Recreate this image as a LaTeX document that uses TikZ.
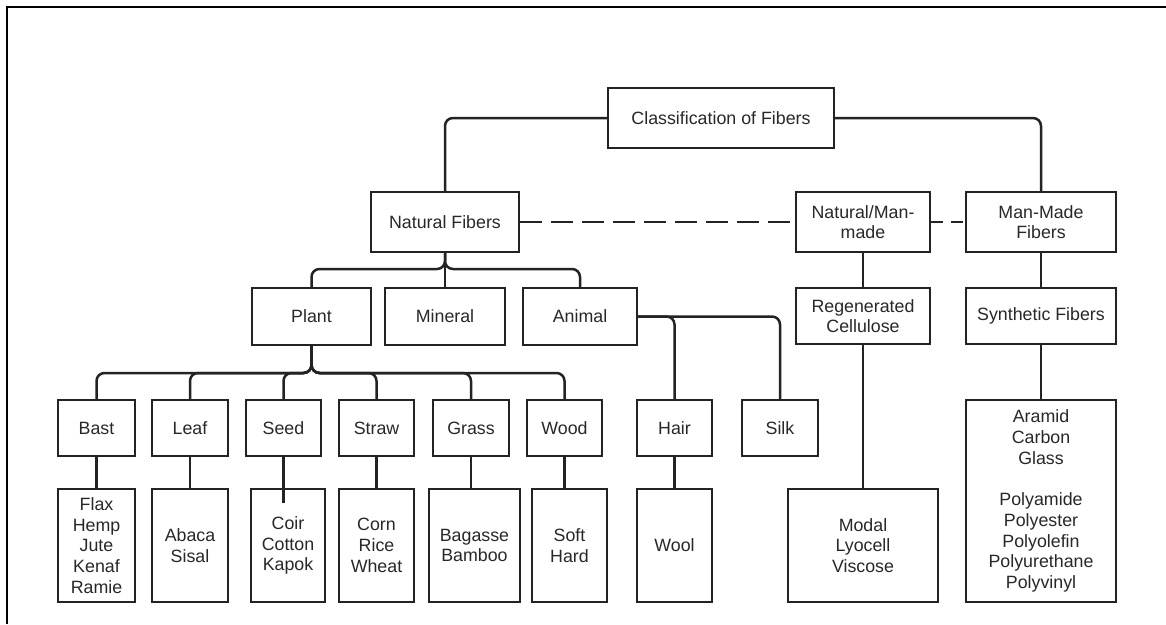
\documentclass[tikz,border=0pt]{standalone}
\usepackage{fontspec}
\setmainfont{Liberation Sans}
\definecolor{linec}{RGB}{35,35,35}
\definecolor{textc}{RGB}{40,40,40}
\begin{document}
\begin{tikzpicture}[x=1pt,y=-1pt,
  box/.style={draw=linec, line width=2.1pt, inner sep=0pt, align=center,
    font=\fontsize{17.8}{20.7}\selectfont, text=textc},
  conn/.style={draw=linec, line width=2.5pt},
  rc/.style={rounded corners=8pt}]
\useasboundingbox (0,0) rectangle (1166,624);
\fill[white] (0,0) rectangle (1166,624);
% frame (top and left visible)
\draw[line width=2.4pt, black] (7,624) -- (7,7) -- (1166,7);

% level 0
\node[box, minimum width=226pt, minimum height=60pt] (class) at (721,118) {Classification of Fibers};
% level 1
\node[box, minimum width=148pt, minimum height=60pt] (nf) at (445,222) {Natural Fibers};
\node[box, minimum width=134pt, minimum height=60pt] (nm) at (863,222) {Natural/Man-\\made};
\node[box, minimum width=150pt, minimum height=60pt] (mm) at (1041,222) {Man-Made\\Fibers};
% level 2
\node[box, minimum width=119pt, minimum height=57pt] (plant) at (311.5,316.5) {Plant};
\node[box, minimum width=120pt, minimum height=57pt] (mineral) at (445,316.5) {Mineral};
\node[box, minimum width=114pt, minimum height=57pt] (animal) at (580,316.5) {Animal};
\node[box, minimum width=134pt, minimum height=56pt] (regen) at (863,316) {Regenerated\\Cellulose};
\node[box, minimum width=150pt, minimum height=56pt] (synth) at (1041,316) {Synthetic Fibers};
% level 3
\node[box, minimum width=77pt, minimum height=56pt] (bast) at (96.5,428) {Bast};
\node[box, minimum width=76pt, minimum height=56pt] (leaf) at (190,428) {Leaf};
\node[box, minimum width=75pt, minimum height=56pt] (seed) at (283.5,428) {Seed};
\node[box, minimum width=75pt, minimum height=56pt] (straw) at (376.5,428) {Straw};
\node[box, minimum width=76pt, minimum height=56pt] (grass) at (471,428) {Grass};
\node[box, minimum width=75pt, minimum height=56pt] (wood) at (564.5,428) {Wood};
\node[box, minimum width=75pt, minimum height=56pt] (hair) at (674.5,428) {Hair};
\node[box, minimum width=76pt, minimum height=56pt] (silk) at (780,428) {Silk};
\node[box, minimum width=150pt, minimum height=202pt] (aramid) at (1041,501)
  {Aramid\\Carbon\\Glass\\[20.7pt]Polyamide\\Polyester\\Polyolefin\\Polyurethane\\Polyvinyl};
% level 4
\node[box, minimum width=77pt, minimum height=113pt] (flax) at (96.5,545.5) {Flax\\Hemp\\Jute\\Kenaf\\Ramie};
\node[box, minimum width=76pt, minimum height=113pt] (abaca) at (190,545.5) {Abaca\\Sisal};
\node[box, minimum width=74pt, minimum height=113pt] (coir) at (288,545.5) {Coir\\Cotton\\Kapok};
\node[box, minimum width=75pt, minimum height=113pt] (corn) at (376.5,545.5) {Corn\\Rice\\Wheat};
\node[box, minimum width=91pt, minimum height=113pt] (bagasse) at (474.5,545.5) {Bagasse\\Bamboo};
\node[box, minimum width=75pt, minimum height=113pt] (soft) at (569.5,545.5) {Soft\\Hard};
\node[box, minimum width=75pt, minimum height=113pt] (wool) at (674.5,545.5) {Wool};
\node[box, minimum width=150pt, minimum height=113pt] (modal) at (863,545.5) {Modal\\Lyocell\\Viscose};

% branch points
\coordinate (nfb) at (445,269);
\coordinate (pb) at (311.5,373);
\coordinate (seedend) at (283.5,503);

% connectors
\draw[conn, rc] (class.west) -| (nf.north);
\draw[conn, rc] (class.east) -| (mm.north);
\draw[conn, dash pattern=on 22pt off 9pt] (nf.east) -- (nm.west);
\draw[conn, dash pattern=on 12pt off 8pt] (nm.east) -- (mm.west);

\draw[conn, rc] (nf.south) -- (nfb) -| (plant.north);
\draw[conn, rc] (nf.south) -- (nfb) -| (animal.north);
\draw[conn] (nf.south) -- (mineral.north);

\foreach \c in {bast,leaf,seed,straw,grass,wood}
  \draw[conn, rc] (plant.south) -- (pb) -| (\c.north);

\draw[conn, rc] (animal.east) -| (hair.north);
\draw[conn, rc] (animal.east) -| (silk.north);

\draw[conn] (bast.south) -- (bast.south |- flax.north);
\draw[conn] (leaf.south) -- (leaf.south |- abaca.north);
\draw[conn] (seed.south) -- (seedend);
\draw[conn] (straw.south) -- (straw.south |- corn.north);
\draw[conn] (grass.south) -- (grass.south |- bagasse.north);
\draw[conn] (wood.south) -- (wood.south |- soft.north);
\draw[conn] (hair.south) -- (wool.north);
\draw[conn] (nm.south) -- (regen.north);
\draw[conn] (regen.south) -- (modal.north);
\draw[conn] (mm.south) -- (synth.north);
\draw[conn] (synth.south) -- (aramid.north);
\end{tikzpicture}
\end{document}
